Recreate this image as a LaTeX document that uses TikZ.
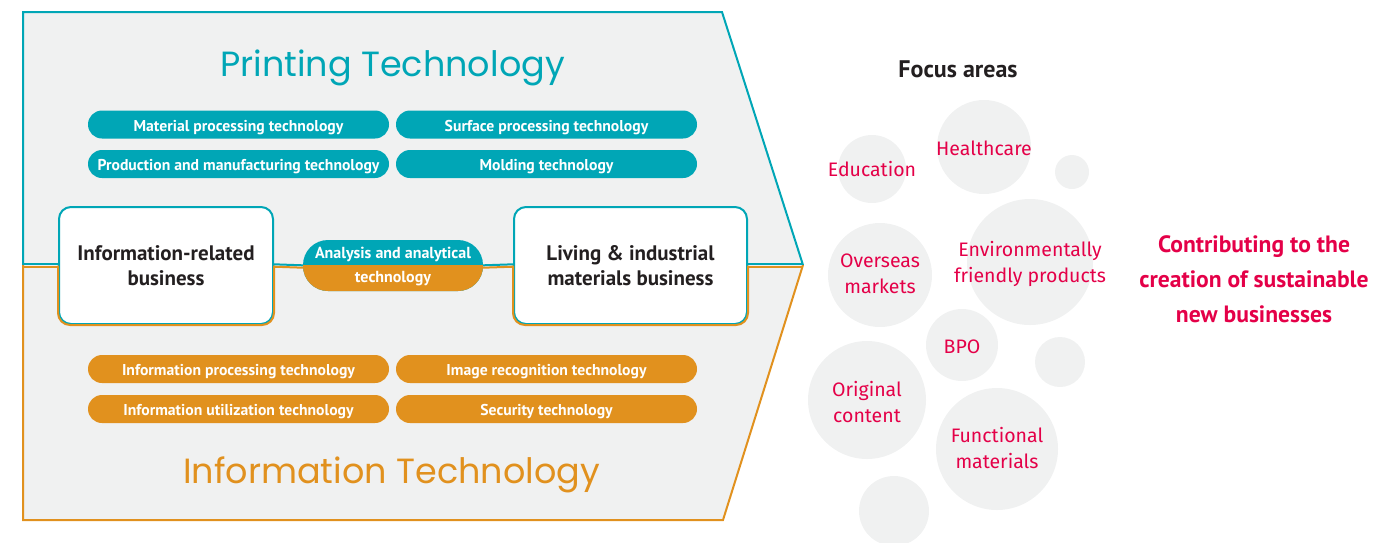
\documentclass[tikz,border=0pt]{standalone}
\usepackage{fontspec}
\setmainfont{PT Sans}
\newfontfamily\titelfont{Poppins}
\newfontfamily\blasenfont{Fira Sans}
\usepackage{xcolor}
\definecolor{tuerkis}{RGB}{0,166,182}
\definecolor{ocker}{RGB}{225,145,30}
\definecolor{rot}{RGB}{228,0,72}
\definecolor{hellgrau}{RGB}{240,241,241}
\definecolor{schwarz}{RGB}{35,31,32}

\begin{document}
\begin{tikzpicture}[x=1pt, y=-1pt,
	tuerkislinie/.style={tuerkis, line width=2pt},
	ockerlinie/.style={ocker, line width=2pt},
	pille/.style={rounded corners=14pt, minimum width=301pt, minimum height=28pt, inner sep=0pt, text height=13.5pt, text depth=0pt, text=white, font=\bfseries\fontsize{15.7}{18}\selectfont},
	geschaeft/.style={draw=tuerkis, line width=2pt, fill=white, rounded corners=12pt, minimum height=117pt, inner sep=0pt, align=center, text=schwarz, font=\bfseries\fontsize{21}{24.5}\selectfont},
	blase/.style={circle, fill=hellgrau, inner sep=0pt},
	blasentext/.style={align=center, text=rot, font=\blasenfont\fontsize{19.5}{26}\selectfont}]
	\useasboundingbox (0,0) rectangle (1379,542);
	% grauer pfeil
	\fill[hellgrau] (23,12) -- (722,12) -- (803,265) -- (723,520) -- (23,520) -- cycle;
	\draw[tuerkislinie] (23,265) -- (23,12) -- (722,12) -- (803,265);
	\draw[ockerlinie] (23,265) -- (23,520) -- (723,520) -- (803,265);
	% ueberschriften
	\node[anchor=base, text=tuerkis, font=\titelfont\fontsize{35}{40}\selectfont] (drucktitel) at (392.5,76) {Printing Technology};
	\node[anchor=base, text=ocker, font=\titelfont\fontsize{35}{40}\selectfont] (infotitel) at (391.5,483) {Information Technology};
	% drucktechnik, pillen
	\node[pille, fill=tuerkis] (material) at (238.5,124.5) {Material processing technology};
	\node[pille, fill=tuerkis] (oberflaeche) at (546.5,124.5) {Surface processing technology};
	\node[pille, fill=tuerkis] (produktion) at (238.5,164) {Production and manufacturing technology};
	\node[pille, fill=tuerkis] (formung) at (546.5,164) {Molding technology};
	% informationstechnik, pillen
	\node[pille, fill=ocker] (verarbeitung) at (238.5,369) {Information processing technology};
	\node[pille, fill=ocker] (bilderkennung) at (546.5,369) {Image recognition technology};
	\node[pille, fill=ocker] (nutzung) at (238.5,409) {Information utilization technology};
	\node[pille, fill=ocker] (sicherheit) at (546.5,409) {Security technology};
	% mittlere reihe
	\coordinate (links) at (23,265.5);
	\coordinate (spitze) at (803,265.5);
	\node[geschaeft, minimum width=214pt] (info) at (166,265.5) {Information-related\\business};
	\node[geschaeft, minimum width=233pt] (leben) at (630.5,265.5) {Living \& industrial\\materials business};
	\fill[tuerkis, rounded corners=25pt] (303,240) rectangle (483,291);
	\begin{scope}
		\clip (300,265.5) rectangle (486,295);
		\fill[ocker, rounded corners=25pt] (303,240) rectangle (483,291);
	\end{scope}
	\node[minimum width=180pt, minimum height=51pt, inner sep=0pt, align=center, text=white, font=\bfseries\fontsize{16}{24}\selectfont] (analyse) at (393,266.5) {Analysis and analytical\\technology};
	% untere haelften orange
	\draw[ockerlinie, rounded corners=12pt] (info.west) -- (info.south west) -- (info.south east) -- (info.east);
	\draw[ockerlinie, rounded corners=12pt] (leben.west) -- (leben.south west) -- (leben.south east) -- (leben.east);
	% verbindungslinien
	\draw[tuerkislinie] ([yshift=1.2pt]links) -- ([yshift=1.2pt]info.west);
	\draw[ockerlinie] ([yshift=-1.2pt]links) -- ([yshift=-1.2pt]info.west);
	\draw[tuerkislinie] ([yshift=1.2pt]info.east) -- ([yshift=1.2pt]analyse.west);
	\draw[ockerlinie] ([yshift=-1.2pt]info.east) -- ([yshift=-1.2pt]analyse.west);
	\draw[tuerkislinie] ([yshift=1.2pt]analyse.east) -- ([yshift=1.2pt]leben.west);
	\draw[ockerlinie] ([yshift=-1.2pt]analyse.east) -- ([yshift=-1.2pt]leben.west);
	\draw[tuerkislinie] ([yshift=1.2pt]leben.east) -- ([yshift=1.2pt]spitze);
	\draw[ockerlinie] ([yshift=-1.2pt]leben.east) -- ([yshift=-1.2pt]spitze);
	% schwerpunkte, blasen
	\node[text=schwarz, font=\bfseries\fontsize{24}{24}\selectfont] (schwerpunkte) at (958,69) {Focus areas};
	\node[blase, minimum size=68pt] (bildung) at (872,169) {};
	\node[blase, minimum size=94pt] (gesundheit) at (984,147) {};
	\node[blase, minimum size=34pt] (klein1) at (1072,172) {};
	\node[blase, minimum size=126pt] (umwelt) at (1030,262) {};
	\node[blase, minimum size=104pt] (ausland) at (880,275) {};
	\node[blase, minimum size=72pt] (bpo) at (962,345) {};
	\node[blase, minimum size=50pt] (klein2) at (1060,362) {};
	\node[blase, minimum size=118pt] (original) at (867,400) {};
	\node[blase, minimum size=122pt] (funktion) at (997,449) {};
	\node[blase, minimum size=70pt] (klein3) at (894,511) {};
	% schwerpunkte, texte
	\node[blasentext] (bildungtext) at (bildung) {Education};
	\node[blasentext, yshift=-1pt] (gesundheittext) at (gesundheit) {Healthcare};
	\node[blasentext, yshift=-2pt] (umwelttext) at (umwelt) {Environmentally\\friendly products};
	\node[blasentext, yshift=1.5pt] (auslandtext) at (ausland) {Overseas\\markets};
	\node[blasentext, yshift=-2pt] (bpotext) at (bpo) {BPO};
	\node[blasentext, yshift=-2.5pt] (originaltext) at (original) {Original\\content};
	\node[blasentext, yshift=1pt] (funktiontext) at (funktion) {Functional\\materials};
	% beitrag
	\node[align=center, text=rot, font=\bfseries\fontsize{23.6}{35}\selectfont] (beitrag) at (1254,279) {Contributing to the\\creation of sustainable\\new businesses};
\end{tikzpicture}
\end{document}
